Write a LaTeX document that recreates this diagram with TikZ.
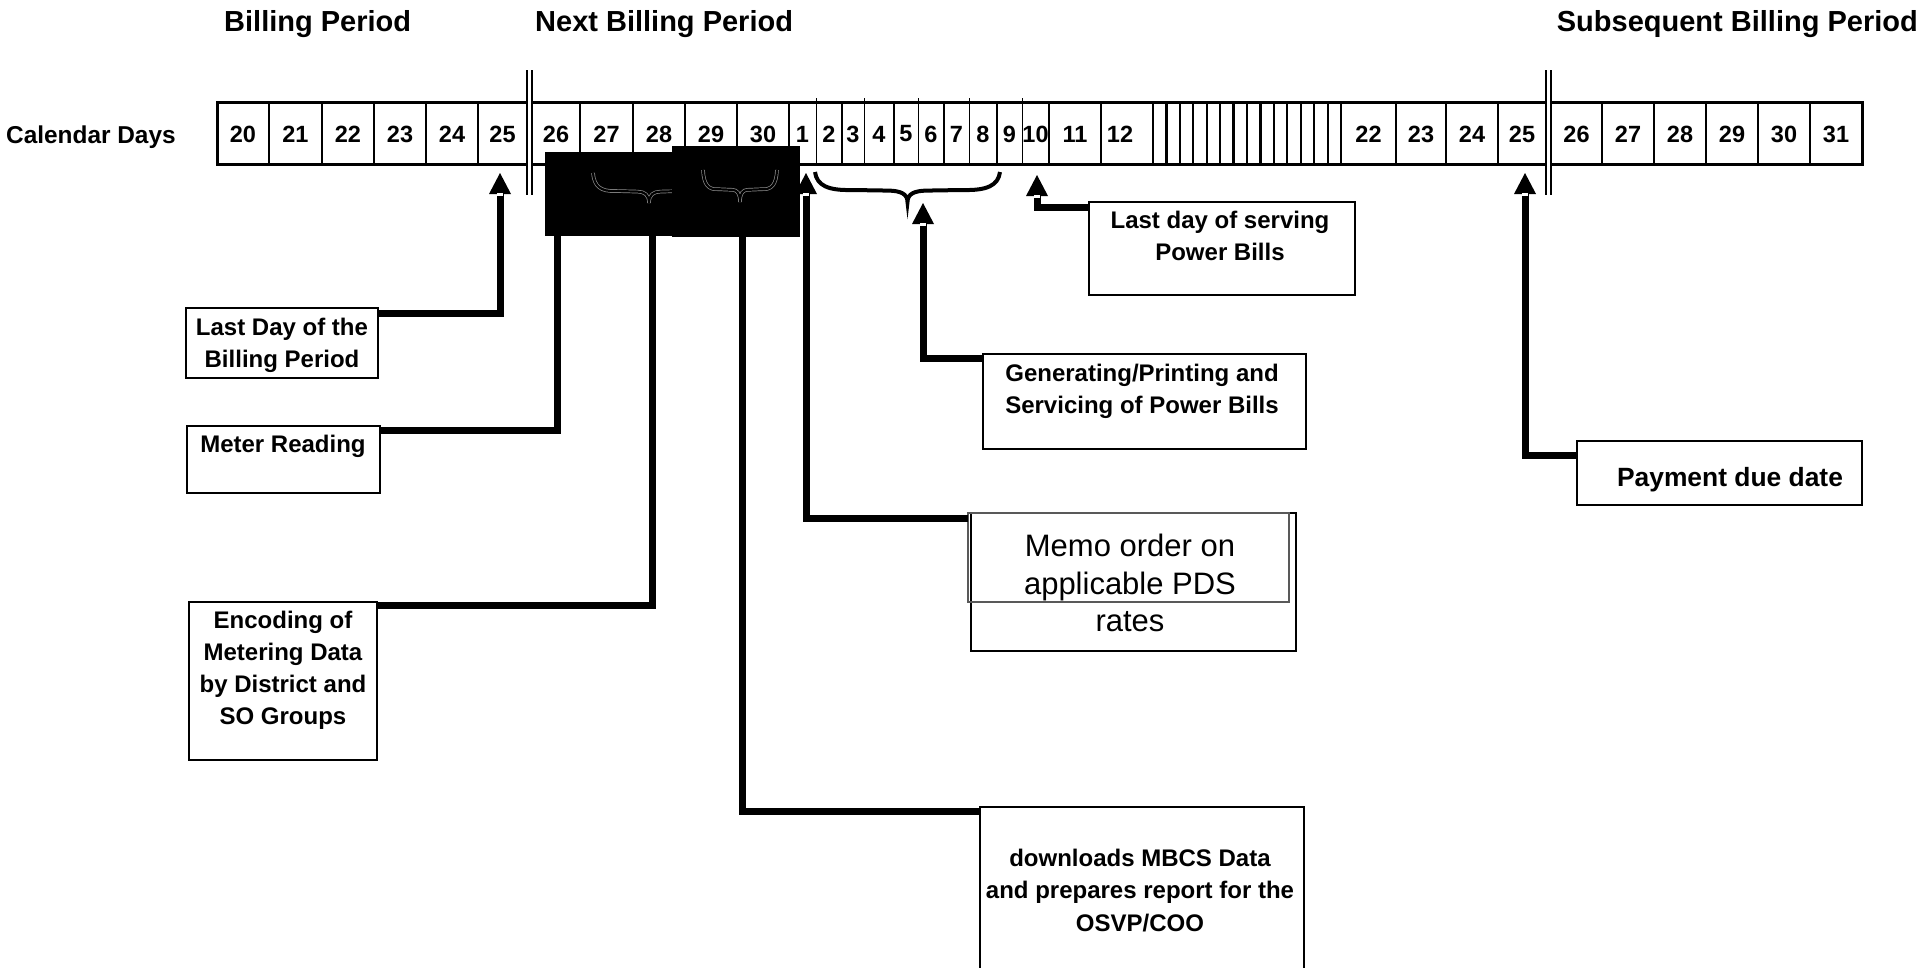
\documentclass[tikz,border=0pt]{standalone}
\usepackage{fontspec}
\setmainfont{Liberation Sans}
\usetikzlibrary{arrows.meta}
\begin{document}
\begin{tikzpicture}[x=1pt,y=-1pt,
  conn/.style={line width=7pt,line join=miter},
  arr/.style={conn,-{Triangle[length=21pt,width=22pt,line width=0pt]}},
  box/.style={draw,line width=1.8pt,anchor=north west,inner sep=0pt,outer sep=0pt},
  lbl/.style={font=\fontsize{24}{32}\selectfont\bfseries,align=center,inner sep=0pt,anchor=north},
  ttl/.style={font=\fontsize{29}{35}\selectfont\bfseries,inner sep=0pt,anchor=base west},
  day/.style={font=\fontsize{23.5}{28}\selectfont\bfseries,inner sep=0pt},
  blk/.style={fill=black,draw=none,anchor=north west,inner sep=0pt,outer sep=0pt},
  ubrace/.pic={\path[pic actions] (0,0) .. controls (0.01,0.45) and (0.07,0.62) .. (0.2,0.6) -- (0.4,0.62) .. controls (0.46,0.63) and (0.5,0.72) .. (0.5,1) .. controls (0.5,0.72) and (0.54,0.63) .. (0.6,0.62) -- (0.8,0.6) .. controls (0.93,0.62) and (0.99,0.45) .. (1,0);}
]
\useasboundingbox[fill=white] (0,0) rectangle (1920,967);

% titles
\node[ttl] (t1) at (224,31) {Billing Period};
\node[ttl] (t2) at (535,31) {Next Billing Period};
\node[ttl,anchor=base east] (t3) at (1918,31) {Subsequent Billing Period};
\node[font=\fontsize{24.4}{30}\selectfont\bfseries,inner sep=0pt,anchor=base west] (cal) at (6,143) {Calendar Days};

% strip
\draw[line width=3pt] (217,102.5) rectangle (1862,164);
\foreach \x in {269,322,374,426,478,580,633,685,737,789,842,894,944,997,1049,1101,1153,1341,1396,1446,1498,1602,1654,1706,1758,1810}
  \draw[line width=2.5pt] (\x,102.5) -- (\x,164);
\foreach \x in {816,864,918,969,1022}
  \draw[line width=1pt] (\x,98) -- (\x,164);
\foreach \i in {1,...,13}
  \draw[line width=2.2pt] ({1153+\i*13.43},102.5) -- ({1153+\i*13.43},164);

% double bars
\foreach \x in {527,1546}{
  \fill[white] (\x,70) rectangle (\x+5,195);
  \draw[line width=1.8pt] (\x,70) -- (\x,195) (\x+5,70) -- (\x+5,195);
}

% day numbers
\foreach \x/\t [count=\i] in {243/20,295.5/21,348/22,400/23,452/24,502.5/25,556/26,606.5/27,659/28,711/29,763/30,802.5/1,829/2,853/3,879/4,906/5,931/6,956.5/7,983/8,1009.5/9,1035.5/10,1075/11,1120/12,1368.5/22,1421/23,1472/24,1522/25,1576.5/26,1628/27,1680/28,1732/29,1784/30,1836/31}
  \node[day] (d\i) at (\x,134) {\t};

% black boxes with faint braces
\node[blk,minimum width=155pt,minimum height=84pt] (bb1) at (545,152) {};
\pic[xscale=112,yscale=30,draw=black!45,line width=3.6pt] (gb1) at (593,173) {ubrace};
\pic[xscale=112,yscale=30,draw=black,line width=2.2pt] (gb1i) at (593,173) {ubrace};
\node[blk,minimum width=128pt,minimum height=91pt] (bb2) at (672,146) {};
\pic[xscale=74,yscale=32,draw=black!45,line width=3.6pt] (gb2) at (703,170) {ubrace};
\pic[xscale=74,yscale=32,draw=black,line width=2.2pt] (gb2i) at (703,170) {ubrace};

% black brace under days 2-9
\pic[xscale=185,yscale=30,draw=black,line width=4pt] (br) at (815,172) {ubrace};

% boxes
\node[box,minimum width=192pt,minimum height=70pt] (lastday) at (186,308) {};
\node[lbl] (lastdayT) at (282,317.5) {Last Day of the\\Billing Period};
\node[box,minimum width=193pt,minimum height=67pt] (meter) at (187,426) {};
\node[lbl] (meterT) at (283,434.5) {Meter Reading};
\node[box,minimum width=188pt,minimum height=158pt] (enc) at (189,602) {};
\node[lbl] (encT) at (283,610.5) {Encoding of\\Metering Data\\by District and\\SO Groups};
\node[box,minimum width=266pt,minimum height=93pt] (ls) at (1089,202) {};
\node[lbl] (lsT) at (1220,210.5) {Last day of serving\\Power Bills};
\node[box,minimum width=323pt,minimum height=95pt] (gen) at (983,354) {};
\node[lbl] (genT) at (1142,363.5) {Generating/Printing and\\Servicing of Power Bills};
\node[box,line width=1.4pt,minimum width=325pt,minimum height=138pt] (memoB) at (971,513) {};
\node[box,draw=black!65,line width=1.3pt,minimum width=321pt,minimum height=89pt] (memoA) at (968,513) {};
\node[font=\fontsize{31}{37.5}\selectfont,align=center,inner sep=0pt,anchor=north] (memoT) at (1130,534) {Memo order on\\applicable PDS\\rates};
\node[box,minimum width=324pt,minimum height=175pt] (dl) at (980,807) {};
\node[lbl,font=\fontsize{24}{32.5}\selectfont\bfseries] (dlT) at (1140,848.5) {downloads MBCS Data\\and prepares report for the\\OSVP/COO};
\node[box,minimum width=285pt,minimum height=64pt] (pay) at (1577,441) {};
\node[font=\fontsize{26.4}{32}\selectfont\bfseries,inner sep=0pt,anchor=north] (payT) at (1730,467.5) {Payment due date};

% arrow targets
\coordinate (a25) at (500,173);
\coordinate (a1) at (806,173);
\coordinate (abr) at (923,203);
\coordinate (a10) at (1037,175);
\coordinate (a25b) at (1525,173);

% connectors
\draw[arr] ([yshift=-5pt]lastday.north east) -| (a25);
\draw[conn] ([yshift=-4pt]meter.north east) -| ([xshift=12pt]bb1.south west);
\draw[conn] ([yshift=-3pt]enc.north east) -| ([xshift=107pt]bb1.south west);
\draw[conn] ([yshift=-4pt]dl.north west) -| ([xshift=70pt]bb2.south west);
\draw[arr] ([yshift=-5pt]memoA.north west) -| (a1);
\draw[arr] ([yshift=-4pt]gen.north west) -| (abr);
\draw[arr] ([yshift=-5pt]ls.north west) -| (a10);
\draw[arr] ([yshift=-14pt]pay.north west) -| (a25b);

% small white notches at arrow bases
\foreach \p in {a25,a1,abr,a10,a25b}
  \fill[white] ([xshift=-3pt,yshift=-20pt]\p) rectangle ([xshift=3pt,yshift=-23pt]\p);
\end{tikzpicture}
\end{document}
